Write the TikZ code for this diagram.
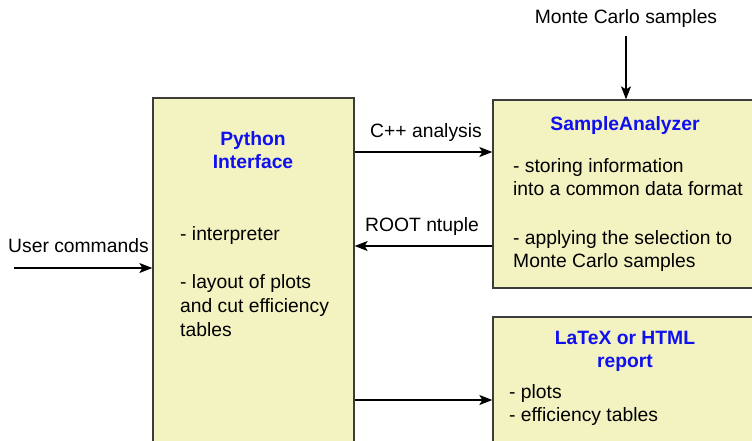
\documentclass[tikz,border=0pt]{standalone}
\usepackage{fontspec}
\setmainfont{Liberation Sans}
\usetikzlibrary{arrows.meta}
\definecolor{boxfill}{RGB}{243,243,194}
\definecolor{boxline}{RGB}{60,60,60}
\definecolor{titleblue}{RGB}{15,15,240}
\tikzset{
  blk/.style={draw=boxline, line width=1.3pt, fill=boxfill, rectangle, inner sep=0pt},
  txt/.style={anchor=base west, inner sep=0pt, font=\fontsize{19.3}{24}\selectfont, text=black},
  ctxt/.style={anchor=base, inner sep=0pt, font=\fontsize{19.3}{24}\selectfont, text=black},
  ttl/.style={anchor=base, inner sep=0pt, font=\fontsize{19.3}{24}\selectfont\bfseries, text=titleblue},
  arr/.style={draw=black, line width=1.2pt, -{Stealth[length=13pt,width=10pt,inset=3pt]}}
}
\begin{document}
\begin{tikzpicture}[x=1pt,y=-1pt]
\useasboundingbox (0,0) rectangle (752,440);
\clip (0,0) rectangle (752,440);
% boxes
\node[blk, minimum width=201pt, minimum height=362pt] (py) at (253.5,279) {};
\node[blk, minimum width=277pt, minimum height=188pt] (sa) at (631.5,194) {};
\node[blk, minimum width=277pt, minimum height=143pt] (rep) at (631.5,388.5) {};
% Python interface texts
\node[ttl] (pyt1) at (253,145) {Python};
\node[ttl] (pyt2) at (253,168) {Interface};
\node[txt] (pyb1) at (180,240) {- interpreter};
\node[txt] (pyb2) at (180,288) {- layout of plots};
\node[txt] (pyb3) at (180,312) {and cut efficiency};
\node[txt] (pyb4) at (180,336) {tables};
% SampleAnalyzer texts
\node[ttl] (sat) at (625,130) {SampleAnalyzer};
\node[txt] (sab1) at (513,172) {- storing information};
\node[txt] (sab2) at (513,195) {into a common data format};
\node[txt] (sab3) at (513,244) {- applying the selection to};
\node[txt] (sab4) at (513,267) {Monte Carlo samples};
% Report texts
\node[ttl] (rept1) at (625,344) {LaTeX or HTML};
\node[ttl] (rept2) at (625,367) {report};
\node[txt] (repb1) at (509,398) {- plots};
\node[txt] (repb2) at (509,421) {- efficiency tables};
% external labels
\node[txt] (user) at (8,252) {User commands};
\node[ctxt] (mc) at (626,23) {Monte Carlo samples};
\node[ctxt] (cpp) at (426,137) {C++ analysis};
\node[ctxt] (root) at (422,231) {ROOT ntuple};
% connector anchors
\coordinate (ucstart) at (14,268);
\coordinate (mcstart) at (626,36);
\coordinate (ycpp) at (0,152);
\coordinate (yroot) at (0,246);
\coordinate (yrep) at (0,400);
% connectors
\draw[arr] (ucstart) -- (ucstart -| py.west);
\draw[arr] (mcstart) -- (mcstart |- sa.north);
\draw[arr] (py.east |- ycpp) -- (sa.west |- ycpp);
\draw[arr] (sa.west |- yroot) -- (py.east |- yroot);
\draw[arr] (py.east |- yrep) -- (rep.west |- yrep);
\end{tikzpicture}
\end{document}
